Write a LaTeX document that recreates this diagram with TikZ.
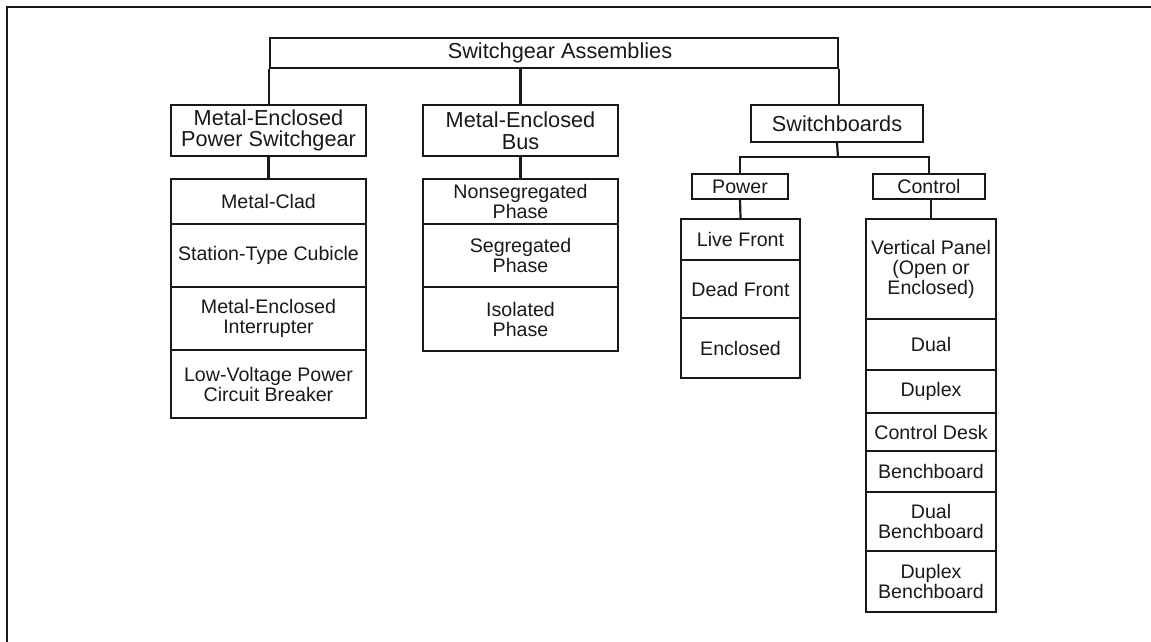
\documentclass[tikz,border=0pt]{standalone}
\usepackage{fontspec}
\setmainfont{Liberation Sans}
\begin{document}
\begin{tikzpicture}[x=1pt,y=-1pt,
  line width=2.2pt, draw=black!90,
  hdr/.style={draw, inner sep=0pt, align=center, font=\fontsize{21.7}{21.5}\selectfont, text=black!90},
  item/.style={draw, inner sep=0pt, align=center, font=\fontsize{19.6}{20}\selectfont, text=black!90}]
\useasboundingbox (0,0) rectangle (1151,642);
\draw (7,643) -- (7,7) -- (1152,7);
% headers
\node[hdr, minimum width=568, minimum height=30] (top) at (554,53) {\hspace*{12pt}Switchgear Assemblies};
\node[hdr, minimum width=195, minimum height=51] (meps) at (268.5,130.5) {Metal-Enclosed\\Power Switchgear};
\node[hdr, minimum width=195, minimum height=51] (meb) at (520.5,130.5) {Metal-Enclosed\\Bus};
\node[hdr, minimum width=172, minimum height=37] (sb) at (837,123.5) {Switchboards};
\node[item, minimum width=96, minimum height=25] (power) at (740,186.5) {Power};
\node[item, minimum width=112, minimum height=25] (control) at (929,186.5) {Control};
% MEPS list
\node[item, minimum width=195, minimum height=45] (mc) at (268.5,201.5) {Metal-Clad};
\node[item, minimum width=195, minimum height=63] (stc) at (268.5,255.5) {Station-Type Cubicle};
\node[item, minimum width=195, minimum height=63] (mei) at (268.5,318.5) {Metal-Enclosed\\Interrupter};
\node[item, minimum width=195, minimum height=68] (lv) at (268.5,384) {Low-Voltage Power\\Circuit Breaker};
% MEB list
\node[item, minimum width=195, minimum height=45] (ns) at (520.5,201.5) {Nonsegregated\\Phase};
\node[item, minimum width=195, minimum height=63] (sp) at (520.5,255.5) {Segregated\\Phase};
\node[item, minimum width=195, minimum height=64] (ip) at (520.5,319) {Isolated\\Phase};
% Power list
\node[item, minimum width=119, minimum height=41] (lf) at (740.5,239.5) {Live Front};
\node[item, minimum width=119, minimum height=58] (df) at (740.5,289) {Dead Front};
\node[item, minimum width=119, minimum height=60] (en) at (740.5,348) {Enclosed};
% Control list
\node[item, minimum width=130, minimum height=100] (vp) at (931,269) {Vertical Panel\\(Open or\\Enclosed)};
\node[item, minimum width=130, minimum height=51] (dual) at (931,344.5) {Dual};
\node[item, minimum width=130, minimum height=43] (dpx) at (931,391.5) {Duplex};
\node[item, minimum width=130, minimum height=38] (cd) at (931,432) {Control Desk};
\node[item, minimum width=130, minimum height=41] (bb) at (931,471.5) {Benchboard};
\node[item, minimum width=130, minimum height=59] (dbb) at (931,521.5) {Dual\\Benchboard};
\node[item, minimum width=130, minimum height=61] (dxbb) at (931,581.5) {Duplex\\Benchboard};
% connectors
\draw (top.south west) -- (top.south west |- meps.north);
\draw (meb.north) -- (meb.north |- top.south);
\draw (top.south east) -- (top.south east |- sb.north);
\draw (meps.south) -- (mc.north);
\draw (meb.south) -- (ns.north);
\coordinate (sbbus) at (838,157);
\draw (sb.south) -- (sbbus);
\draw (power.north) |- (sbbus) -| (control.north);
\draw (power.south) -- (lf.north);
\draw (vp.north) -- (vp.north |- control.south);
\end{tikzpicture}
\end{document}
